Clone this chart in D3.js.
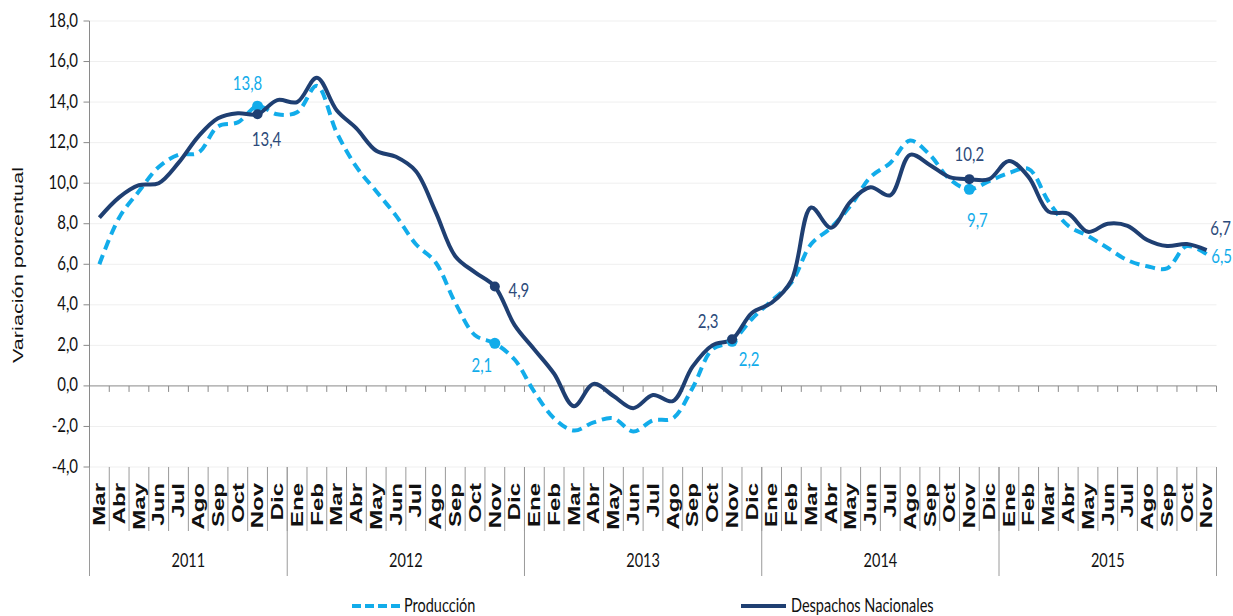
<!DOCTYPE html>
<html>
<head>
<meta charset="UTF-8">
<script src="https://cdn.jsdelivr.net/npm/d3@7"></script>
<style>
body{
  margin:0;
  background-color:#fff;
}
</style>
</head>
<body>
<script>
// month categories, Mar 2011 .. Nov 2015
var monthLabels = ["Mar","Abr","May","Jun","Jul","Ago","Sep","Oct","Nov","Dic",
  "Ene","Feb","Mar","Abr","May","Jun","Jul","Ago","Sep","Oct","Nov","Dic",
  "Ene","Feb","Mar","Abr","May","Jun","Jul","Ago","Sep","Oct","Nov","Dic",
  "Ene","Feb","Mar","Abr","May","Jun","Jul","Ago","Sep","Oct","Nov","Dic",
  "Ene","Feb","Mar","Abr","May","Jun","Jul","Ago","Sep","Oct","Nov"]
var years = ["2011","2012","2013","2014","2015"]
var monthsPerYear = [10,12,12,12,11]

var produccion = [6.0,8.3,9.6,10.8,11.4,11.5,12.8,13.0,13.8,13.4,
  13.5,14.8,12.5,10.8,9.6,8.4,7.0,6.1,4.1,2.5,2.1,1.3,
  -0.3,-1.6,-2.2,-1.8,-1.6,-2.25,-1.7,-1.6,-0.1,1.8,2.2,3.3,
  4.2,5.1,7.0,7.8,8.9,10.3,11.0,12.1,11.4,10.2,9.7,10.1,
  10.5,10.7,9.1,7.9,7.4,6.8,6.2,5.9,5.8,6.9,6.5]

var despachos = [8.3,9.3,9.9,10.0,11.0,12.3,13.2,13.45,13.4,14.1,
  14.0,15.2,13.6,12.7,11.6,11.3,10.6,8.6,6.4,5.6,4.9,3.0,
  1.8,0.6,-1.0,0.1,-0.5,-1.1,-0.45,-0.75,0.95,2.0,2.3,3.6,
  4.1,5.2,8.8,7.8,9.1,9.8,9.4,11.4,10.9,10.3,10.2,10.2,
  11.1,10.3,8.6,8.5,7.6,8.0,7.9,7.2,6.9,7.0,6.7]

var yTicks = [-4,-2,0,2,4,6,8,10,12,14,16,18]

// which points get a marker and a value label
var markedPoints = [8,20,32,44]
var labeledPoints = [
  {s:"p", i:8,  dx:-10, dy:-16},
  {s:"d", i:8,  dx:9,   dy:32},
  {s:"d", i:20, dx:24,  dy:10},
  {s:"p", i:20, dx:-13, dy:29},
  {s:"d", i:32, dx:-24, dy:-11},
  {s:"p", i:32, dx:17,  dy:25},
  {s:"d", i:44, dx:0,   dy:-18},
  {s:"p", i:44, dx:8,   dy:38},
  {s:"d", i:56, dx:14,  dy:-15},
  {s:"p", i:56, dx:15,  dy:9}
]

var width = 1233
var height = 616
var plotLeft = 89.5, plotRight = 1216.5, plotTop = 21, plotBottom = 467

var colP = "#12acea"
var colD = "#1f3f72"
var numFont = "Lato, 'Open Sans', sans-serif"

var x = d3.scaleBand().domain(d3.range(monthLabels.length)).range([plotLeft, plotRight])
var y = d3.scaleLinear().domain([-4, 18]).range([plotBottom, plotTop])
var fmt = function(v){ return d3.format(".1f")(v).replace(".", ",").replace("−", "-") }

var svg = d3.select("body").append("svg")
    .attr("width", width)
    .attr("height", height)

// text drawn a bit taller than wide, like the source picture
function stretchText(px, py, s, fill, anchor, size){
  var g = svg.append("g").attr("transform", "translate(" + px + "," + py + ") scale(1,1.3)")
  return g.append("text")
    .attr("text-anchor", anchor)
    .attr("font-family", numFont)
    .attr("font-size", size)
    .attr("fill", fill)
    .text(s)
}

// gridlines
svg.selectAll(".grid")
  .data(yTicks.filter(d => d != 0))
  .enter().append("line")
    .attr("class", "grid")
    .attr("x1", plotLeft).attr("x2", plotRight)
    .attr("y1", d => y(d)).attr("y2", d => y(d))
    .attr("stroke", "#efefef")
    .attr("stroke-width", 1)

// y axis
svg.append("line")
  .attr("x1", plotLeft).attr("x2", plotLeft)
  .attr("y1", plotTop).attr("y2", plotBottom)
  .attr("stroke", "#8a8a8a")
svg.selectAll(".ytick")
  .data(yTicks)
  .enter().append("line")
    .attr("x1", plotLeft - 6).attr("x2", plotLeft)
    .attr("y1", d => y(d)).attr("y2", d => y(d))
    .attr("stroke", "#8a8a8a")
yTicks.forEach(function(t){
  stretchText(78, y(t) + 5.5, fmt(t), "#111", "end", 15)
})

// zero line with ticks
svg.append("line")
  .attr("x1", plotLeft).attr("x2", plotRight)
  .attr("y1", y(0)).attr("y2", y(0))
  .attr("stroke", "#8a8a8a")
var bounds = d3.range(monthLabels.length + 1).map(i => plotLeft + i * x.step())
svg.selectAll(".ztick")
  .data(bounds)
  .enter().append("line")
    .attr("x1", d => d).attr("x2", d => d)
    .attr("y1", y(0)).attr("y2", y(0) + 6)
    .attr("stroke", "#8a8a8a")

// month separators and labels
svg.selectAll(".msep")
  .data(bounds)
  .enter().append("line")
    .attr("x1", d => d).attr("x2", d => d)
    .attr("y1", plotBottom).attr("y2", 531)
    .attr("stroke", "#9a9a9a")

svg.selectAll(".mlab")
  .data(monthLabels)
  .enter().append("g")
    .attr("transform", (d, i) => "translate(" + (x(i) + x.bandwidth() / 2) + ",483) rotate(-90) scale(1.5,1)")
  .append("text")
    .attr("text-anchor", "end")
    .attr("dy", "0.36em")
    .attr("font-family", "'Liberation Sans', Arial, sans-serif")
    .attr("font-weight", "bold")
    .attr("font-size", 16)
    .attr("fill", "#111")
    .text(d => d)

// year separators and labels
var acc = 0
var yearBounds = [0]
monthsPerYear.forEach(function(n){ acc += n; yearBounds.push(acc) })
svg.selectAll(".ysep")
  .data(yearBounds)
  .enter().append("line")
    .attr("x1", d => plotLeft + d * x.step()).attr("x2", d => plotLeft + d * x.step())
    .attr("y1", plotBottom).attr("y2", 576)
    .attr("stroke", "#9a9a9a")
years.forEach(function(yr, k){
  var cx = plotLeft + (yearBounds[k] + yearBounds[k + 1]) / 2 * x.step()
  stretchText(cx, 567, yr, "#111", "middle", 14.5)
})

// axis title
svg.append("g")
  .attr("transform", "translate(23," + 265 + ") rotate(-90) scale(1.55,1)")
  .append("text")
    .attr("text-anchor", "middle")
    .attr("font-family", "'Liberation Sans', Arial, sans-serif")
    .attr("font-size", 14)
    .attr("fill", "#111")
    .text("Variación porcentual")

// lines
var line = d3.line()
  .x((d, i) => x(i) + x.bandwidth() / 2)
  .y(d => y(d))
  .curve(d3.curveCatmullRom.alpha(0.5))

svg.append("path")
  .datum(produccion)
  .attr("d", line)
  .attr("fill", "none")
  .attr("stroke", colP)
  .attr("stroke-width", 4)
  .attr("stroke-dasharray", "10,6")

svg.append("path")
  .datum(despachos)
  .attr("d", line)
  .attr("fill", "none")
  .attr("stroke", colD)
  .attr("stroke-width", 4)

svg.selectAll(".mp")
  .data(markedPoints)
  .enter().append("circle")
    .attr("cx", i => x(i) + x.bandwidth() / 2)
    .attr("cy", i => y(produccion[i]))
    .attr("r", 5.5)
    .attr("fill", colP)
svg.selectAll(".md")
  .data(markedPoints)
  .enter().append("circle")
    .attr("cx", i => x(i) + x.bandwidth() / 2)
    .attr("cy", i => y(despachos[i]))
    .attr("r", 5)
    .attr("fill", colD)

labeledPoints.forEach(function(a){
  var v = a.s == "p" ? produccion[a.i] : despachos[a.i]
  var c = a.s == "p" ? colP : "#2c4a7a"
  stretchText(x(a.i) + x.bandwidth() / 2 + a.dx, y(v) + a.dy, fmt(v), c, "middle", 15)
})

// legend
svg.append("line")
  .attr("x1", 352).attr("x2", 401)
  .attr("y1", 606).attr("y2", 606)
  .attr("stroke", colP)
  .attr("stroke-width", 4)
  .attr("stroke-dasharray", "9,4")
stretchText(404, 612, "Producción", "#111", "start", 14.5)

svg.append("line")
  .attr("x1", 741).attr("x2", 786)
  .attr("y1", 606).attr("y2", 606)
  .attr("stroke", colD)
  .attr("stroke-width", 4)
stretchText(791, 612, "Despachos Nacionales", "#111", "start", 14.5)
</script>
</body>
</html>
